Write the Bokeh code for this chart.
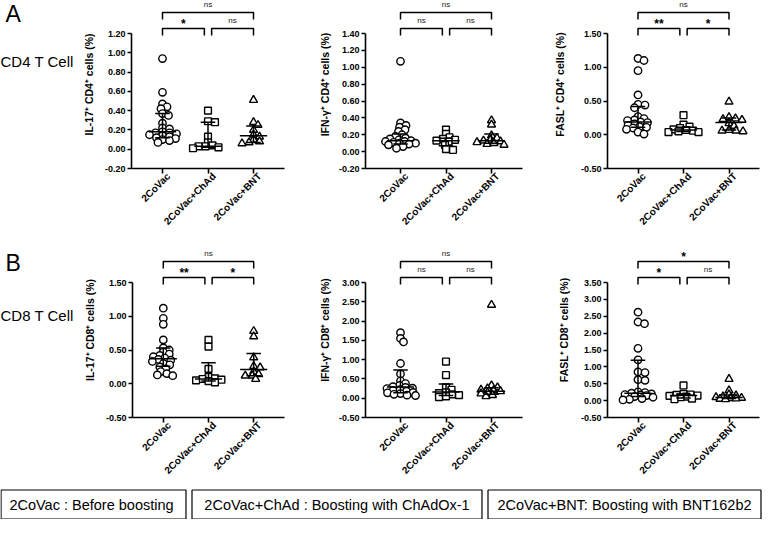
import numpy as np
from bokeh.plotting import figure
from bokeh.layouts import row, column
from bokeh.models import Range1d, FixedTicker, PrintfTickFormatter, LinearAxis, Title
from bokeh.core.properties import value
from bokeh.embed import file_html
from bokeh.resources import INLINE

# ---------------- data ----------------
groups = ["2CoVac", "2CoVac+ChAd", "2CoVac+BNT"]
legend_texts = ["2CoVac  : Before boosting",
                "2CoVac+ChAd : Boosting with ChAdOx-1",
                "2CoVac+BNT: Boosting with BNT162b2"]

# A: CD4 T cells
il17_cd4_2covac = [0.94, 0.59, 0.47, 0.44, 0.42, 0.37, 0.35, 0.27, 0.22, 0.21, 0.18,
                   0.17, 0.17, 0.16, 0.15, 0.14, 0.13, 0.12, 0.11, 0.10, 0.09, 0.07]
il17_cd4_chad = [0.40, 0.29, 0.28, 0.13, 0.07, 0.04, 0.03, 0.03, 0.02, 0.01]
il17_cd4_bnt = [0.51, 0.28, 0.25, 0.20, 0.15, 0.13, 0.10, 0.08, 0.07, 0.06]
il17_cd4_stats = [(0.12, 0.18, 0.37), (0.02, 0.03, 0.28), (0.07, 0.14, 0.24)]

ifng_cd4_2covac = [1.07, 0.34, 0.31, 0.29, 0.26, 0.24, 0.20, 0.18, 0.16, 0.15, 0.14,
                   0.13, 0.12, 0.12, 0.11, 0.10, 0.10, 0.09, 0.08, 0.06, 0.04]
ifng_cd4_chad = [0.26, 0.21, 0.17, 0.15, 0.14, 0.13, 0.12, 0.08, 0.03, 0.02]
ifng_cd4_bnt = [0.37, 0.32, 0.19, 0.16, 0.14, 0.13, 0.12, 0.11, 0.10, 0.09, 0.08]
ifng_cd4_stats = [(0.09, 0.13, 0.21), (0.07, 0.13, 0.16), (0.10, 0.13, 0.21)]

fasl_cd4_2covac = [1.13, 1.10, 0.95, 0.59, 0.45, 0.44, 0.40, 0.27, 0.24, 0.22, 0.21,
                   0.19, 0.18, 0.16, 0.14, 0.12, 0.11, 0.10, 0.08, 0.04, 0.01]
fasl_cd4_chad = [0.29, 0.15, 0.12, 0.10, 0.08, 0.07, 0.06, 0.05, 0.04, 0.04]
fasl_cd4_bnt = [0.49, 0.26, 0.24, 0.23, 0.22, 0.17, 0.13, 0.07, 0.06, 0.06, 0.05]
fasl_cd4_stats = [(0.11, 0.19, 0.42), (0.05, 0.07, 0.11), (0.07, 0.18, 0.25)]

# B: CD8 T cells
il17_cd8_2covac = [1.12, 0.97, 0.88, 0.65, 0.53, 0.50, 0.47, 0.44, 0.42, 0.40, 0.38,
                   0.36, 0.35, 0.33, 0.30, 0.28, 0.25, 0.22, 0.18, 0.15, 0.13, 0.12]
il17_cd8_chad = [0.65, 0.55, 0.22, 0.10, 0.08, 0.07, 0.06, 0.05, 0.04, 0.02]
il17_cd8_bnt = [0.78, 0.70, 0.39, 0.26, 0.24, 0.18, 0.14, 0.12, 0.12, 0.07]
il17_cd8_stats = [(0.26, 0.37, 0.53), (0.04, 0.07, 0.31), (0.12, 0.21, 0.45)]

ifng_cd8_2covac = [1.70, 1.55, 1.46, 0.90, 0.63, 0.45, 0.38, 0.33, 0.30, 0.28, 0.26,
                   0.25, 0.22, 0.20, 0.18, 0.15, 0.14, 0.12, 0.10, 0.08, 0.07]
ifng_cd8_chad = [0.95, 0.60, 0.28, 0.22, 0.15, 0.13, 0.10, 0.08, 0.05, 0.03]
ifng_cd8_bnt = [2.42, 0.33, 0.28, 0.25, 0.22, 0.20, 0.18, 0.15, 0.12, 0.08, 0.05]
ifng_cd8_stats = [(0.14, 0.29, 0.73), (0.07, 0.16, 0.37), (0.10, 0.18, 0.27)]

fasl_cd8_2covac = [2.62, 2.33, 2.28, 1.55, 1.21, 0.85, 0.83, 0.62, 0.60, 0.26, 0.24,
                   0.22, 0.20, 0.18, 0.17, 0.15, 0.12, 0.10, 0.06, 0.04, 0.02]
fasl_cd8_chad = [0.45, 0.20, 0.18, 0.17, 0.15, 0.14, 0.12, 0.10, 0.06, 0.04]
fasl_cd8_bnt = [0.64, 0.30, 0.18, 0.15, 0.12, 0.10, 0.08, 0.07, 0.06, 0.05, 0.04]
fasl_cd8_stats = [(0.12, 0.22, 1.20), (0.08, 0.15, 0.19), (0.06, 0.09, 0.17)]

ticks_il17_cd4 = [-0.2, 0.0, 0.2, 0.4, 0.6, 0.8, 1.0, 1.2]
ticks_ifng_cd4 = [-0.2, 0.0, 0.2, 0.4, 0.6, 0.8, 1.0, 1.2, 1.4]
ticks_fasl_cd4 = [-0.5, 0.0, 0.5, 1.0, 1.5]
ticks_il17_cd8 = [-0.5, 0.0, 0.5, 1.0, 1.5]
ticks_ifng_cd8 = [-0.5, 0.0, 0.5, 1.0, 1.5, 2.0, 2.5, 3.0]
ticks_fasl_cd8 = [-0.5, 0.0, 0.5, 1.0, 1.5, 2.0, 2.5, 3.0, 3.5]

# significance: [2CoVac vs BNT, 2CoVac vs ChAd, ChAd vs BNT]
sig_il17_cd4 = ["ns", "*", "ns"]
sig_ifng_cd4 = ["ns", "ns", "ns"]
sig_fasl_cd4 = ["ns", "**", "*"]
sig_il17_cd8 = ["ns", "**", "*"]
sig_ifng_cd8 = ["ns", "ns", "ns"]
sig_fasl_cd8 = ["*", "*", "ns"]

# ---------------- layout (page pixels) ----------------
FONT = "Liberation Sans"
COLS = [dict(left=82, width=218, axis=139, cat1=170, right=292),
        dict(left=300, width=240, axis=373, cat1=408, right=530),
        dict(left=540, width=230, axis=615, cat1=645.5, right=767)]
ROWS = [dict(top=8, height=242, atop=41, abot=176),
        dict(top=250, height=245, atop=290, abot=425)]
STEP = 45.5
LABEL_SHIFT = 6.0   # px: x-tick labels sit with their end right under the tick
MARKERS = ["circle", "square", "triangle"]
MSIZE = [7.4, 6.8, 8.0]


def swarm(vals, ppu, wx=6.8, wy=3.8, cap=15.0):
    """Deterministic scatter spread (GraphPad-like): side by side within +-cap px."""
    order = np.argsort(-np.asarray(vals), kind="stable")
    placed = []
    offs = np.zeros(len(vals))
    cands = [0.0]
    k = 1
    while k * 0.5 <= cap:
        cands += [k * 0.5, -k * 0.5]
        k += 1
    for i in order:
        yp = vals[i] * ppu
        best, bestd = 0.0, -1.0
        for c in cands:
            d = min((((c - px) / wx) ** 2 + ((yp - qy) / wy) ** 2 for px, qy in placed),
                    default=9.0)
            if d >= 1.0:
                best = c
                break
            if d > bestd + 1e-9:
                best, bestd = c, d
        placed.append((best, yp))
        offs[i] = best
    return offs


def make_panel(series, stats, ticks, ylabel, sigs, ci, ri, standoff):
    C, R = COLS[ci], ROWS[ri]
    ymin, ymax = ticks[0], ticks[-1]
    ppu = (R["abot"] - R["atop"]) / (ymax - ymin)
    y_end = ymax + (R["atop"] - R["top"]) / ppu
    x_start = 1 - (C["cat1"] - C["axis"]) / STEP
    x_end = 1 + (C["right"] - C["cat1"]) / STEP
    p = figure(width=C["width"], height=R["height"],
               x_range=Range1d(x_start, x_end), y_range=Range1d(ymin, y_end),
               output_backend="svg", toolbar_location=None,
               min_border_left=C["axis"] - C["left"],
               min_border_right=C["left"] + C["width"] - C["right"],
               min_border_top=0,
               min_border_bottom=R["top"] + R["height"] - R["abot"])
    p.outline_line_color = None
    p.grid.visible = False
    p.background_fill_color = "white"
    p.border_fill_color = "white"

    # points
    for g, vals in enumerate(series):
        offs = swarm(vals, ppu)
        xs = [g + 1 + o / STEP for o in offs]
        p.scatter(xs, vals, marker=MARKERS[g], size=MSIZE[g], fill_color="white",
                  line_color="black", line_width=1.4)
    # median + interquartile range
    for g, (q1, med, q3) in enumerate(stats):
        c = g + 1
        p.segment(x0=[c - 0.3, c - 0.16, c - 0.16, c], y0=[med, q1, q3, q1],
                  x1=[c + 0.3, c + 0.16, c + 0.16, c], y1=[med, q1, q3, q3],
                  line_color="black", line_width=1.5)

    # significance brackets (offsets in px relative to the top tick)
    def py(off):
        return ymax - off / ppu
    gap = 0.08
    xs = [[1, 1, 3, 3], [1, 1, 2 - gap, 2 - gap], [2 + gap, 2 + gap, 3, 3]]
    ys = [[py(-14), py(-21), py(-21), py(-14)],
          [py(2), py(-5), py(-5), py(2)],
          [py(2), py(-5), py(-5), py(2)]]
    p.multi_line(xs, ys, line_color="black", line_width=1.5)
    tx = [2.0, (1 + 2 - gap) / 2, (2 + gap + 3) / 2]
    toff = [-29, -13, -13]
    for s, x, o in zip(sigs, tx, toff):
        if s == "ns":
            p.text([x], [py(o)], text=[s], text_font=value(FONT), text_font_size="8px",
                   text_align="center", text_baseline="middle", text_color="#222222")
        else:
            p.text([x], [py(o + 3)], text=[s], text_font=value(FONT), text_font_size="12px",
                   text_font_style="bold", text_align="center", text_baseline="middle",
                   text_color="black")

    # axes
    def style(ax):
        ax.axis_line_width = 1.6
        ax.axis_line_color = "black"
        ax.major_tick_line_width = 1.6
        ax.major_tick_line_color = "black"
        ax.major_tick_in = 0
        ax.major_tick_out = 4
        ax.minor_tick_line_color = None
        ax.major_label_text_font = FONT
        ax.major_label_text_font_style = "bold"
        ax.major_label_text_color = "black"
    style(p.xaxis[0])
    style(p.yaxis[0])
    xa = p.xaxis[0]
    xa.ticker = FixedTicker(ticks=[1, 2, 3])
    xa.major_label_text_color = None      # this axis only draws the line and tick marks
    xa.major_label_text_font_size = "1px"
    xa.major_label_standoff = 0
    xa.major_tick_out = 5

    # tick labels on a companion axis, nudged so each label ends under its tick
    dx = LABEL_SHIFT / STEP
    p.extra_x_ranges = {"lab": Range1d(x_start - dx, x_end - dx)}
    la = LinearAxis(x_range_name="lab", ticker=FixedTicker(ticks=[1, 2, 3]),
                    major_label_overrides={1: groups[0], 2: groups[1], 3: groups[2]},
                    major_label_orientation=np.pi / 4)
    style(la)
    la.axis_line_color = None
    la.major_tick_line_color = None
    la.major_tick_out = 0
    la.major_label_standoff = 1
    la.major_label_text_font_size = "10px"
    p.add_layout(la, "below")

    ya = p.yaxis[0]
    ya.ticker = FixedTicker(ticks=ticks)
    ya.formatter = PrintfTickFormatter(format="%.2f")
    ya.bounds = (ymin, ymax)
    ya.major_label_text_font_size = "9px"
    ya.major_label_standoff = 2

    # y label centred on the axis span (not on the whole frame)
    shift = ((R["atop"] + R["abot"]) / 2) - ((R["top"] + R["abot"]) / 2)
    t = Title(text=ylabel, align="center", offset=-shift, standoff=standoff,
              text_font=FONT, text_font_size="10.5px", text_font_style="bold",
              text_color="black")
    p.add_layout(t, "left")
    return p


def label_fig(height, letter, letter_y, cell, cell_y):
    w = COLS[0]["left"] - 8
    f = figure(width=w, height=height, x_range=Range1d(0, w), y_range=Range1d(height, 0),
               output_backend="svg", toolbar_location=None, min_border=0)
    f.axis.visible = False
    f.grid.visible = False
    f.outline_line_color = None
    f.text([5], [letter_y], text=[letter], text_font=value(FONT), text_font_size="23px",
           text_baseline="top", text_color="black")
    f.text([0], [cell_y], text=[cell], text_font=value(FONT), text_font_size="15px",
           text_baseline="middle", text_color="black")
    return f


pA1 = make_panel([il17_cd4_2covac, il17_cd4_chad, il17_cd4_bnt], il17_cd4_stats,
                 ticks_il17_cd4, "IL-17\u207a CD4\u207a cells (%)", sig_il17_cd4, 0, 0, 13)
pA2 = make_panel([ifng_cd4_2covac, ifng_cd4_chad, ifng_cd4_bnt], ifng_cd4_stats,
                 ticks_ifng_cd4, "IFN-\u03b3\u207a CD4\u207a cells (%)", sig_ifng_cd4, 1, 0, 10)
pA3 = make_panel([fasl_cd4_2covac, fasl_cd4_chad, fasl_cd4_bnt], fasl_cd4_stats,
                 ticks_fasl_cd4, "FASL\u207a CD4\u207a cells (%)", sig_fasl_cd4, 2, 0, 24)
pB1 = make_panel([il17_cd8_2covac, il17_cd8_chad, il17_cd8_bnt], il17_cd8_stats,
                 ticks_il17_cd8, "IL-17\u207a CD8\u207a cells (%)", sig_il17_cd8, 0, 1, 14)
pB2 = make_panel([ifng_cd8_2covac, ifng_cd8_chad, ifng_cd8_bnt], ifng_cd8_stats,
                 ticks_ifng_cd8, "IFN-\u03b3\u207a CD8\u207a cells (%)", sig_ifng_cd8, 1, 1, 10)
pB3 = make_panel([fasl_cd8_2covac, fasl_cd8_chad, fasl_cd8_bnt], fasl_cd8_stats,
                 ticks_fasl_cd8, "FASL\u207a CD8\u207a cells (%)", sig_fasl_cd8, 2, 1, 15)

labA = label_fig(ROWS[0]["height"], "A", 1, "CD4 T Cell", 88)
labB = label_fig(ROWS[1]["height"], "B", 10, "CD8 T Cell", 102)

# legend boxes
LW, LH = 762, 32
box_left = [0, 191, 487]
box_right = [186, 482, 761]
leg = figure(width=LW, height=LH, x_range=Range1d(0, LW), y_range=Range1d(LH, 0),
             output_backend="svg", toolbar_location=None, min_border=0)
leg.axis.visible = False
leg.grid.visible = False
leg.outline_line_color = None
leg.quad(left=[l + 0.5 for l in box_left], right=[r - 0.5 for r in box_right],
         top=[2.5] * 3, bottom=[31.5] * 3, fill_color=None, line_color="black", line_width=1.2)
leg.text([(l + r) / 2 for l, r in zip(box_left, box_right)], [17] * 3, text=legend_texts,
         text_font=value(FONT), text_font_size="14.5px", text_align="center",
         text_baseline="middle", text_color="black")

layout = column(row(labA, pA1, pA2, pA3), row(labB, pB1, pB2, pB3), leg)

open("out.html", "w").write(file_html(layout, INLINE))
